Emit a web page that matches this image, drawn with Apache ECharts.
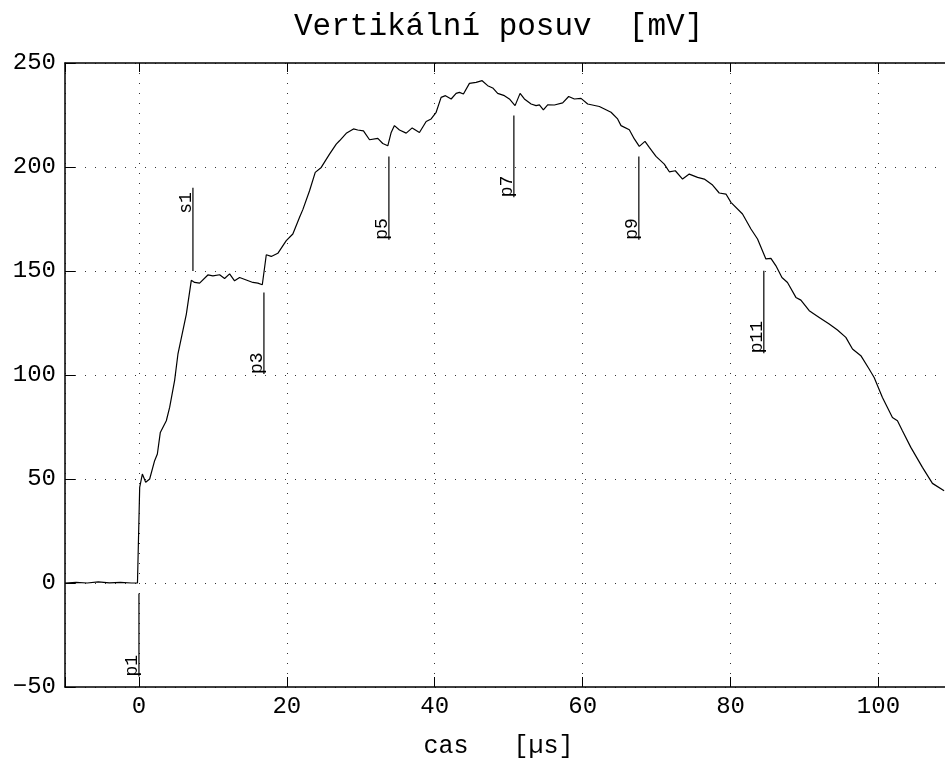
<!DOCTYPE html>
<html>
<head>
<meta charset="utf-8">
<script src="https://cdn.jsdelivr.net/npm/echarts@6/dist/echarts.min.js"></script>
<style>
  html, body { margin: 0; padding: 0; background: #fff; }
  #chart { width: 945px; height: 760px; }
</style>
</head>
<body>
<div id="chart"></div>
<script>
const timeUs = [-10, -8.5, -7, -5.5, -4, -2.5, -1, -0.2,
    0.1, 0.46, 0.91, 1.45, 2.12, 2.49, 2.89, 3.70, 4.15, 4.82,
    5.27, 6.41, 7.08, 7.53, 8.20, 9.32, 10.0, 10.91, 11.58, 12.26,
    12.93, 13.61, 14.51, 15.41, 16.08, 16.68, 17.22, 17.89, 18.78, 19.92,
    20.81, 21.72, 22.16, 23.07, 23.84, 24.65, 25.77, 26.68, 27.12, 28.03,
    29.01, 29.59, 30.36, 31.18, 32.30, 32.97, 33.65, 34.11, 34.55, 35.23,
    36.14, 36.95, 37.93, 38.84, 39.51, 40.19, 40.86, 41.45, 42.22, 42.89,
    43.34, 43.88, 44.69, 45.59, 46.41, 47.16, 47.84, 48.51, 49.42, 50.09,
    50.86, 51.54, 52.12, 53.03, 53.70, 54.15, 54.69, 55.27, 56.18, 57.30,
    58.11, 58.88, 59.78, 60.68, 62.26, 63.84, 64.73, 65.19, 66.31, 66.99,
    67.66, 68.43, 69.01, 69.92, 71.04, 71.72, 72.53, 73.51, 74.42, 75.54,
    76.45, 77.57, 78.47, 79.38, 80.05, 81.62, 82.76, 83.65, 84.78, 85.46,
    86.14, 86.95, 87.70, 88.84, 89.51, 90.64, 91.99, 93.34, 94.46, 95.59,
    96.49, 97.62, 98.74, 99.42, 100.54, 101.89, 102.57, 103.24, 104.38, 105.95,
    107.30, 108.88];

const posuvMv = [0, 0.3, 0, 0.5, 0.1, 0.3, 0, 0,
    46, 52.4, 48.4, 50, 58.8, 62, 72.4, 78, 84.4, 97.3,
    110, 129.3, 145.5, 144.5, 144.2, 148.1, 147.7, 148.2, 146.4, 148.6,
    145.3, 146.9, 145.7, 144.5, 144.2, 143.4, 157.8, 157, 158.5, 164.6,
    167.8, 175.8, 179.5, 188.6, 197.4, 199.8, 206.2, 211, 212.6, 216.2,
    218.3, 217.8, 217.4, 213.1, 213.8, 211.3, 210.2, 216.6, 219.9, 217.8,
    216.3, 218.8, 216.6, 221.9, 223.1, 226.3, 233.5, 234.3, 232.7, 235.4,
    235.9, 235.1, 240.2, 240.7, 241.5, 239.1, 238, 235.4, 234.3, 232.7,
    229.5, 235.4, 232.7, 230.3, 229.5, 229.9, 227.5, 229.9, 229.8, 230.8,
    233.9, 232.7, 233, 230.3, 229.1, 226.3, 223.1, 219.9, 217.9, 213.5,
    209.9, 212.3, 209.4, 205.1, 201.4, 197.7, 198.2, 194.2, 196.6, 195,
    194.2, 191.3, 187.5, 187, 183, 177.4, 170.2, 165.4, 155.8, 156.1,
    152.5, 146.9, 144.5, 137.3, 136, 130.9, 127.7, 124.5, 121.6, 118.1,
    112.5, 109.3, 102.9, 98.8, 89.2, 79.6, 78, 73.2, 65.2, 55.6,
    47.9, 44.4];

// vertical markers: name, time, line from / to, where the label starts
const markerNames = ['p1', 's1', 'p3', 'p5', 'p7', 'p9', 'p11'];
const markerX = [0, 7.3, 16.9, 33.8, 50.7, 67.6, 84.5];
const markerFrom = [-45, 150, 100.5, 165, 185.4, 165, 110.4];
const markerTo = [-5, 190, 139.7, 205, 224.7, 205, 150.1];
const markerLabelAt = [-45, 177.5, 100.5, 165, 185.4, 165, 110.4];

const xTicks = [0, 20, 40, 60, 80, 100];

const FONT = '"Liberation Mono", "Courier New", monospace';

const chart = echarts.init(document.getElementById('chart'));

const dotted = { show: true, lineStyle: { color: '#333', width: 1, type: [1, 9] } };

const option = {
    animation: false,
    backgroundColor: '#fff',
    title: {
        text: 'Vertikální posuv  [mV]',
        left: 289,
        top: 6,
        textStyle: { fontFamily: FONT, fontSize: 31, fontWeight: 'normal', color: '#000' }
    },
    grid: { left: 65, top: 63, right: 0, bottom: 73, outerBoundsMode: 'none' },
    xAxis: [
        {
            type: 'value',
            position: 'bottom',
            min: -10,
            max: 109,
            name: 'cas   [µs]',
            nameLocation: 'middle',
            nameGap: 47,
            nameTextStyle: { fontFamily: FONT, fontSize: 25, color: '#000', padding: [0, 13, 0, 0] },
            axisLine: { show: true, onZero: false, lineStyle: { color: '#000', width: 1.5 } },
            axisTick: { show: true, inside: true, length: 10, lineStyle: { color: '#000' } },
            axisLabel: {
                fontFamily: FONT, fontSize: 24, color: '#000', margin: 8,
                formatter: v => xTicks.indexOf(v) >= 0 ? String(v) : ''
            },
            splitLine: dotted
        },
        {
            type: 'value',
            position: 'top',
            min: -10,
            max: 109,
            axisLine: { show: true, onZero: false, lineStyle: { color: '#000', width: 1.5 } },
            axisTick: { show: true, inside: true, length: 9, lineStyle: { color: '#000' } },
            axisLabel: { show: false },
            splitLine: { show: false }
        }
    ],
    yAxis: {
        type: 'value',
        min: -50,
        max: 250,
        interval: 50,
        axisLine: { show: true, onZero: false, lineStyle: { color: '#000', width: 1.5 } },
        axisTick: { show: true, inside: true, length: 10, lineStyle: { color: '#000' } },
        axisLabel: {
            fontFamily: FONT, fontSize: 24, color: '#000', margin: 9,
            formatter: v => String(v).replace('-', '\u2212')
        },
        splitLine: dotted
    },
    series: [
        {
            type: 'line',
            xAxisIndex: 0,
            data: timeUs.map((t, i) => [t, posuvMv[i]]),
            showSymbol: false,
            lineStyle: { color: '#000', width: 1.2 },
            silent: true
        },
        {
            type: 'custom',
            xAxisIndex: 0,
            data: markerX.map((x, i) => [x, markerFrom[i], markerTo[i], markerLabelAt[i]]),
            encode: { x: 0, y: [1, 2] },
            silent: true,
            renderItem: function (params, api) {
                const a = api.coord([api.value(0), api.value(1)]);
                const b = api.coord([api.value(0), api.value(2)]);
                const t = api.coord([api.value(0), api.value(3)]);
                return {
                    type: 'group',
                    children: [
                        {
                            type: 'line',
                            shape: { x1: a[0], y1: a[1], x2: b[0], y2: b[1] },
                            style: { stroke: '#000', lineWidth: 1.2 }
                        },
                        {
                            type: 'text',
                            x: t[0] + 2,
                            y: t[1],
                            rotation: Math.PI / 2,
                            style: {
                                text: markerNames[params.dataIndex],
                                fontFamily: FONT,
                                fontSize: 18,
                                fill: '#000',
                                textAlign: 'left',
                                textVerticalAlign: 'bottom'
                            }
                        }
                    ]
                };
            }
        }
    ]
};

chart.setOption(option);

window.addEventListener('resize', () => {
    chart.resize();
});
</script>
</body>
</html>
